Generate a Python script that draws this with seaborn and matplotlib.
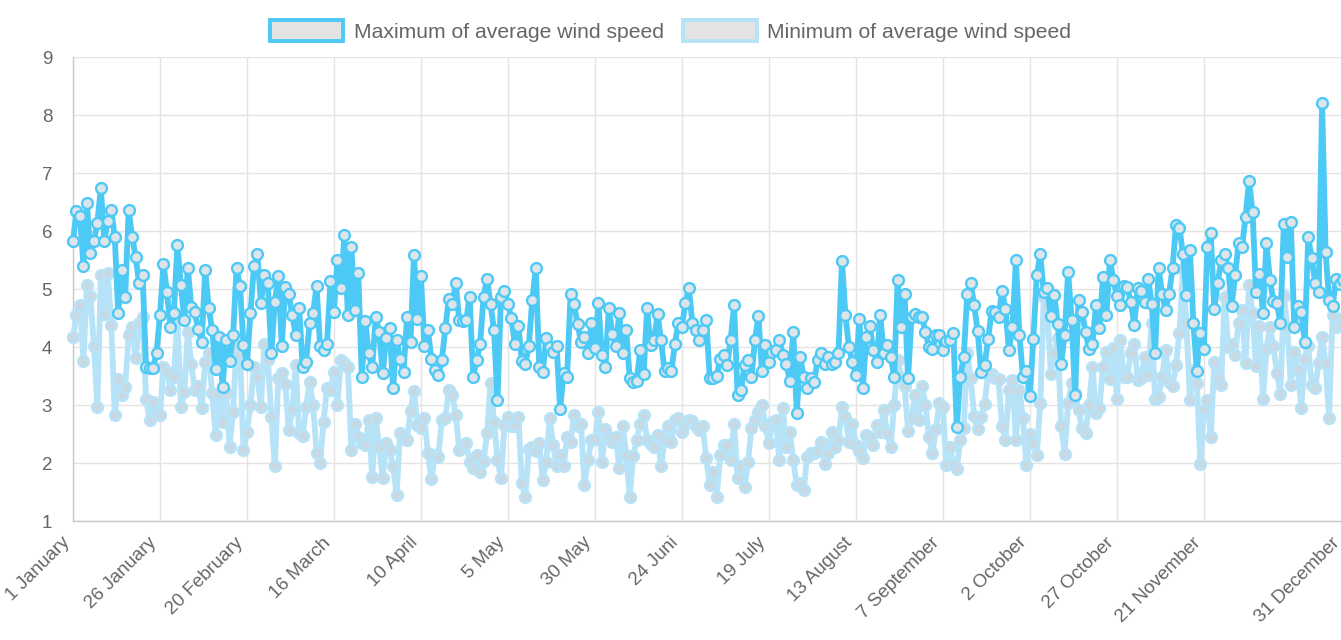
import numpy as np
import matplotlib
matplotlib.use('Agg')
import matplotlib.pyplot as plt
import seaborn as sns
from matplotlib.patches import Patch

# Daily values, 1 January .. 31 December (366 days, leap year)
max_speed = [
    5.82, 6.35, 6.26, 5.40, 6.48, 5.62, 5.82, 6.14, 6.74, 5.82, 6.17, 6.36, 5.90, 4.58,
    5.33, 4.87, 6.36, 5.90, 5.55, 5.10, 5.24, 3.66, 3.63, 3.63, 3.90, 4.55, 5.43, 4.95,
    4.35, 4.58, 5.76, 5.07, 4.47, 5.36, 4.69, 4.60, 4.31, 4.09, 5.33, 4.68, 4.29, 3.62,
    4.17, 3.31, 4.12, 3.76, 4.20, 5.36, 5.05, 4.03, 3.71, 4.58, 5.40, 5.60, 4.76, 5.24,
    5.10, 3.90, 4.78,
    5.22, 4.02, 5.04, 4.92, 4.55, 4.21, 4.68, 3.65, 3.75, 4.41, 4.59, 5.05, 4.02, 3.95,
    4.06, 5.13, 4.61, 5.50, 5.01, 5.93, 4.55, 5.72, 4.64, 5.27, 3.48, 4.44, 3.89, 3.66,
    4.52,
    4.26, 3.55, 4.15, 4.32, 3.29, 4.12, 3.79, 3.57, 4.52, 4.09, 5.59, 4.48, 5.22, 4.02,
    4.29, 3.80, 3.60, 3.52, 3.77, 4.32, 4.82, 4.74, 5.11, 4.46, 4.45, 4.46, 4.87, 3.49,
    3.77, 4.05,
    4.87, 5.18, 4.74, 4.29, 3.09, 4.87, 4.97, 4.74, 4.50, 4.05, 4.36, 3.76, 3.71, 4.02,
    4.81, 5.36, 3.66, 3.57, 4.15, 4.00, 3.92, 4.02, 2.93, 3.55, 3.49, 4.91, 4.74, 4.40,
    4.09, 4.18, 3.89,
    4.41, 3.98, 4.76, 3.86, 3.66, 4.67, 4.23, 4.02, 4.58, 3.89, 4.29, 3.46, 3.39, 3.42,
    3.94, 3.53, 4.67, 4.03, 4.12, 4.57, 4.12, 3.59, 3.63, 3.59, 4.06, 4.42, 4.35, 4.76,
    5.01,
    4.42, 4.29, 4.12, 4.29, 4.46, 3.46, 3.46, 3.50, 3.79, 3.86, 3.69, 4.12, 4.72, 3.17,
    3.26, 3.69, 3.77, 3.49, 4.12, 4.53, 3.59, 4.03, 3.75, 3.92, 3.94, 4.12, 3.86, 3.71,
    3.42, 4.26, 2.86,
    3.82, 3.49, 3.30, 3.46, 3.40, 3.77, 3.90, 3.71, 3.83, 3.71, 3.75, 3.90, 5.49, 4.55,
    4.00, 3.75, 3.52, 4.49, 3.29, 4.17, 4.36, 3.95, 3.75, 4.55, 3.90, 4.03, 3.83, 3.49,
    5.15, 4.35, 4.92,
    3.46, 4.52, 4.57, 4.52, 4.51, 4.26, 4.00, 3.96, 4.21, 4.21, 3.94, 4.11, 4.12, 4.25,
    2.62, 3.49, 3.83, 4.91, 5.10, 4.72, 4.28, 3.57, 3.69, 4.13, 4.62, 4.61, 4.51, 4.97,
    4.65, 3.94, 4.35,
    5.50, 4.21, 3.49, 3.59, 3.15, 4.13, 5.24, 5.60, 4.94, 5.01, 4.53, 4.90, 4.40, 3.71,
    4.21, 5.30, 4.47, 3.17, 4.81, 4.61, 4.26, 3.96, 4.06, 4.72, 4.32, 5.20, 4.55,
    5.50, 5.16, 4.88, 4.72, 5.05, 5.04, 4.78, 4.38, 5.01, 4.97, 4.78, 5.18, 4.75, 3.89,
    5.37, 4.91, 4.64, 4.91, 5.36, 6.10, 6.05, 5.60, 4.90, 5.68, 4.41, 3.59, 4.25, 3.96,
    5.72, 5.96,
    4.65, 5.11, 5.50, 5.60, 5.36, 4.70, 5.24, 5.80, 5.73, 6.25, 6.87, 6.33, 4.95, 5.26,
    4.58, 5.80, 5.15, 4.80, 4.76, 4.41, 6.12, 5.56, 6.16, 4.34, 4.70, 4.61, 4.09, 5.89,
    5.53, 5.10, 4.94, 8.21, 5.64, 4.81, 4.70, 5.17, 5.09, 5.15,
]

min_speed = [
    4.17, 4.55, 4.72, 3.76, 5.07, 4.88, 4.02, 2.97, 5.24, 4.57, 5.28, 4.38, 2.83, 3.45,
    3.17, 3.31, 4.20, 4.35, 3.81, 4.41, 4.52, 3.10, 2.74, 3.05, 2.86, 2.83, 3.66, 3.57,
    3.26, 3.48, 4.50, 2.97, 3.23, 4.26, 3.71, 3.26, 3.32, 2.95, 3.75, 3.89, 3.20, 2.48,
    3.20, 2.71, 3.20, 2.28, 2.88, 4.03, 3.90, 2.22, 2.54, 3.00, 3.66, 3.49, 2.97, 4.06,
    3.78, 2.80, 1.94,
    3.46, 3.55, 3.37, 2.57, 2.91, 3.69, 2.51, 2.46, 2.97, 3.40, 3.00, 2.18, 2.00, 2.71,
    3.29, 3.26, 3.57, 3.00, 3.78, 3.72, 3.66, 2.22, 2.68, 2.45, 2.34, 2.31, 2.74, 1.76,
    2.77,
    2.28, 1.74, 2.34, 2.22, 1.94, 1.45, 2.51, 2.42, 2.40, 2.89, 3.25, 2.65, 2.60, 2.77,
    2.17, 1.72, 2.14, 2.11, 2.75, 2.77, 3.26, 3.17, 2.83, 2.22, 2.31, 2.35, 2.02, 1.91,
    2.14, 1.85,
    2.04, 2.51, 3.38, 2.71, 2.05, 1.74, 2.65, 2.80, 2.63, 2.63, 2.80, 1.65, 1.42, 2.25,
    2.28, 2.20, 2.34, 1.71, 2.02, 2.77, 2.31, 1.94, 2.14, 1.94, 2.45, 2.37, 2.83, 2.63,
    2.68, 1.62, 2.05,
    2.39, 2.41, 2.88, 2.02, 2.58, 2.45, 2.37, 2.45, 1.91, 2.64, 2.14, 1.42, 2.12, 2.40,
    2.68, 2.83, 2.40, 2.33, 2.28, 2.48, 1.94, 2.40, 2.64, 2.37, 2.75, 2.77, 2.54, 2.68,
    2.74,
    2.73, 2.64, 2.57, 2.63, 2.08, 1.62, 1.85, 1.42, 2.14, 2.31, 2.31, 2.05, 2.68, 1.74,
    1.95, 1.59, 2.02, 2.60, 2.74, 2.88, 3.00, 2.63, 2.35, 2.71, 2.74, 2.05, 2.94, 2.28,
    2.54, 2.05, 1.62,
    1.65, 1.53, 2.11, 2.17, 2.17, 2.20, 2.37, 1.99, 2.18, 2.54, 2.28, 2.40, 2.96, 2.79,
    2.37, 2.68, 2.31, 2.20, 2.08, 2.48, 2.45, 2.31, 2.65, 2.54, 2.91, 2.51, 2.28, 3.00,
    3.78, 3.49, 3.32,
    2.56, 2.77, 3.17, 2.75, 3.33, 3.00, 2.45, 2.18, 2.58, 3.03, 2.96, 1.96, 2.27, 1.98,
    1.89, 2.40, 2.60, 3.90, 3.46, 2.81, 2.58, 2.80, 3.02, 3.54, 3.54, 3.46, 3.44, 2.64,
    2.40, 3.26,
    3.43, 2.40, 3.26, 2.77, 1.96, 2.50, 2.35, 2.14, 3.03, 4.87, 4.72, 3.54, 3.90, 4.15,
    2.63, 2.15, 3.03, 3.38, 3.20, 2.91, 2.60, 2.51, 3.00, 3.66, 2.86, 2.94, 3.66, 3.92,
    3.44, 3.98, 3.11, 4.12, 3.49, 3.49, 3.89, 4.06, 3.43, 3.46, 3.82, 3.52, 4.41, 3.11,
    3.14, 3.48, 3.94, 3.40, 3.32, 3.69, 4.25, 5.34, 4.41, 3.09, 3.60, 3.38, 1.99, 2.92,
    3.09, 2.45,
    3.75, 3.46, 3.34, 4.87, 4.00, 4.06, 3.86, 4.42, 4.63, 3.72, 5.07, 4.59, 3.67, 4.36,
    3.11, 3.96, 4.35, 4.02, 3.56, 3.19, 4.88, 4.35, 3.34, 3.92, 3.61, 2.94, 3.80, 4.02,
    3.34, 3.29, 3.72, 4.17, 3.73, 2.77, 4.55, 4.35, 4.40, 4.50,
]

tick_days = [0, 25, 50, 75, 100, 125, 150, 175, 200, 225, 250, 275, 300, 325, 365]
tick_labels = ['1 January', '26 January', '20 February', '16 March', '10 April',
               '5 May', '30 May', '24 Juni', '19 July', '13 August', '7 September',
               '2 October', '27 October', '21 November', '31 December']
series_names = ['Maximum of average wind speed', 'Minimum of average wind speed']

MAX_COLOR = '#4dc9f6'
MIN_COLOR = '#b6e3f8'
GRID = '#e4e4e4'
TEXT = '#666666'

sns.set_style("white")
plt.rcParams['font.family'] = ['Liberation Sans', 'DejaVu Sans']

days = np.arange(len(max_speed))

fig = plt.figure(figsize=(13.41, 6.40), dpi=100)
# plot area runs a little past the right edge, like the original
ax = fig.add_axes([73 / 1341, 119 / 640, 1270 / 1341, 464 / 640])

# min first so the max line sits on top
sns.lineplot(x=days, y=min_speed, ax=ax, color=MIN_COLOR, linewidth=4.2,
             marker='o', markersize=7.8, markerfacecolor='#c8d9e3',
             markeredgecolor=MIN_COLOR, markeredgewidth=1.7, clip_on=False,
             legend=False, zorder=3)
sns.lineplot(x=days, y=max_speed, ax=ax, color=MAX_COLOR, linewidth=4.2,
             marker='o', markersize=7.8, markerfacecolor='#dde5ea',
             markeredgecolor=MAX_COLOR, markeredgewidth=1.7, clip_on=False,
             legend=False, zorder=4)

ax.set_xlim(0, 365)
ax.set_ylim(1, 9)
ax.set_yticks(range(1, 10))
ax.set_xticks(tick_days)
ax.set_xticklabels(tick_labels, rotation=45, ha='right', va='bottom',
                   rotation_mode='anchor')
ax.grid(True, color=GRID, linewidth=1)
ax.set_axisbelow(True)
ax.tick_params(axis='both', length=9, width=1, color=GRID, labelcolor=TEXT,
               labelsize=13.5, pad=6)
ax.tick_params(axis='x', pad=9)
for side in ['top', 'right']:
    ax.spines[side].set_visible(False)
for side in ['left', 'bottom']:
    ax.spines[side].set_color('#c9c9c9')
    ax.spines[side].set_linewidth(1)
ax.set_xlabel('')
ax.set_ylabel('')

handles = [Patch(facecolor='#e3e3e3', edgecolor=MAX_COLOR, linewidth=2.8),
           Patch(facecolor='#e3e3e3', edgecolor=MIN_COLOR, linewidth=2.8)]
fig.legend(handles, series_names, loc='upper center', bbox_to_anchor=(0.5, 0.998),
           ncol=2, frameon=False, fontsize=15.2, handlelength=3.5, handleheight=1.15,
           columnspacing=0.9, handletextpad=0.5, labelcolor=TEXT)

fig.savefig('out.png', dpi=100)
